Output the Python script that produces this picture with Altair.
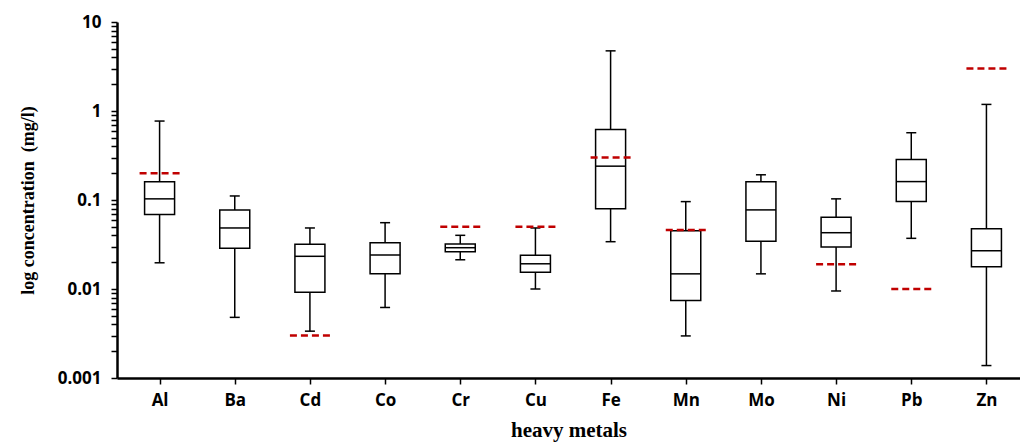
import altair as alt
import pandas as pd

metals = ["Al", "Ba", "Cd", "Co", "Cr", "Cu", "Fe", "Mn", "Mo", "Ni", "Pb", "Zn"]
whisker_low = [0.0197, 0.0048, 0.00336, 0.0062, 0.0213, 0.0100, 0.034, 0.00297, 0.0148, 0.0095, 0.0371, 0.00138]
q1 = [0.0685, 0.0287, 0.0092, 0.0148, 0.0262, 0.0154, 0.080, 0.00745, 0.0344, 0.0296, 0.0959, 0.0178]
median = [0.103, 0.0485, 0.0233, 0.0241, 0.0291, 0.0192, 0.240, 0.0148, 0.0774, 0.0429, 0.161, 0.0269]
q3 = [0.160, 0.0774, 0.0318, 0.0331, 0.0321, 0.0239, 0.621, 0.0452, 0.160, 0.064, 0.285, 0.0476]
whisker_high = [0.771, 0.111, 0.0485, 0.0556, 0.0401, 0.0485, 4.74, 0.0959, 0.192, 0.103, 0.570, 1.186]
guideline = [0.2, None, 0.003, None, 0.05, 0.05, 0.3, 0.046, None, 0.019, 0.01, 3.0]

major_ticks = [0.001, 0.01, 0.1, 1, 10]
major_labels = ["0.001", "0.01", "0.1", "1", "10"]

df = pd.DataFrame({
    "i": list(range(len(metals))),
    "metal": metals,
    "lo": whisker_low,
    "q1": q1,
    "med": median,
    "q3": q3,
    "hi": whisker_high,
    "g": guideline,
})

tick_values = []
for m in major_ticks[:-1]:
    for k in range(1, 10):
        tick_values.append(round(m * k, 6))
tick_values.append(10)

lg = "log(datum.value)/LN10"
arr = "[" + ",".join("'" + s + "'" for s in major_labels) + "]"
y_label_expr = f"abs({lg} - round({lg})) < 0.001 ? {arr}[round({lg}) + 3] : ''"
x_label_expr = "[" + ",".join("'" + m + "'" for m in metals) + "][datum.value]"

LABEL_FONT = "Open Sans"
TITLE_FONT = "Liberation Serif"

yscale = alt.Scale(type="log", domain=[0.001, 10], nice=False)
yaxis = alt.Axis(
    title="log concentration\u00a0\u00a0(mg/l)",
    values=tick_values,
    labelExpr=y_label_expr,
    grid=False,
    tickSize=6,
    tickWidth=1.5,
    tickColor="black",
    domainWidth=2.5,
    domainColor="black",
    labelFont=LABEL_FONT,
    labelFontWeight="bold",
    labelFontSize=17,
    labelColor="black",
    labelPadding=10,
    titleFont=TITLE_FONT,
    titleFontWeight="bold",
    titleFontSize=18,
    titleColor="black",
    titlePadding=20,
    labelOverlap=False,
)
xscale = alt.Scale(domain=[-0.5, 11.38], nice=False, zero=False)
xaxis = alt.Axis(
    title="heavy metals",
    values=list(range(len(metals))),
    labelExpr=x_label_expr,
    grid=False,
    tickSize=6,
    tickWidth=1.5,
    tickColor="black",
    domainWidth=2.5,
    domainColor="black",
    labelFont=LABEL_FONT,
    labelFontWeight="bold",
    labelFontSize=17,
    labelColor="black",
    labelPadding=8,
    titleFont=TITLE_FONT,
    titleFontWeight="bold",
    titleFontSize=21,
    titleColor="black",
    titlePadding=11,
    labelOverlap=False,
)


def X(field="i"):
    return alt.X(f"{field}:Q", scale=xscale, axis=xaxis)


def Y(field):
    return alt.Y(f"{field}:Q", scale=yscale, axis=yaxis)


base = alt.Chart(df)

whiskers = base.mark_rule(color="black", strokeWidth=1.5).encode(
    x=X(), y=Y("lo"), y2="hi:Q"
)
boxes = base.mark_bar(size=30, fill="white", stroke="black", strokeWidth=1.5).encode(
    x=X(), y=Y("q1"), y2="q3:Q"
)
medians = base.mark_rule(color="black", strokeWidth=1.5, xOffset=-15, x2Offset=15).encode(
    x=X(), x2="i:Q", y=Y("med")
)
cap_hi = base.mark_rule(color="black", strokeWidth=1.5, xOffset=-5, x2Offset=5).encode(
    x=X(), x2="i:Q", y=Y("hi")
)
cap_lo = base.mark_rule(color="black", strokeWidth=1.5, xOffset=-5, x2Offset=5).encode(
    x=X(), x2="i:Q", y=Y("lo")
)
guides = base.transform_filter("isValid(datum.g)").mark_rule(
    color="#C00000", strokeWidth=2.5, strokeDash=[7, 4], xOffset=-20, x2Offset=20
).encode(x=X(), x2="i:Q", y=Y("g"))

chart = alt.layer(whiskers, boxes, medians, cap_hi, cap_lo, guides).properties(
    width=903,
    height=356,
    autosize=alt.AutoSizeParams(type="none"),
    padding={"left": 117, "top": 22, "right": 0, "bottom": 66},
    background="white",
).configure_view(stroke=None)

chart.save("out.html", embed_options={"renderer": "svg", "actions": False})
